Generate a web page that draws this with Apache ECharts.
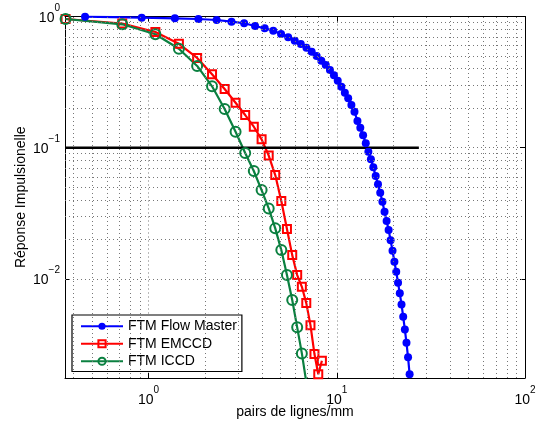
<!DOCTYPE html>
<html><head><meta charset="utf-8">
<script src="https://cdn.jsdelivr.net/npm/echarts@6/dist/echarts.min.js"></script>
<style>html,body{margin:0;padding:0;background:#fff}#c{width:543px;height:421px}</style>
</head><body><div id="c"></div><script>
// ---- data ----
const flowX = [0.46,0.92,1.38,1.84,2.30,2.76,3.22,3.68,4.14,4.60,5.06,5.52,5.98,6.44,6.90,7.36,7.82,8.28,8.74,9.20,9.66,10.12,10.58,11.04,11.50,11.96,12.42,12.88,13.34,13.80,14.26,14.72,15.18,15.64,16.10,16.56,17.02,17.48,17.94,18.40,18.86,19.32,19.78,20.24,20.70,21.16,21.62,22.08,22.54,23.00,23.46,23.92,24.38];
const flowY = [0.997,0.98,0.969,0.957,0.94,0.913,0.888,0.846,0.813,0.779,0.736,0.694,0.654,0.617,0.578,0.539,0.500,0.460,0.427,0.391,0.356,0.324,0.292,0.263,0.238,0.2116,0.188,0.160,0.1418,0.1243,0.108,0.0932,0.0816,0.0709,0.0608,0.0526,0.0454,0.0388,0.0325,0.0276,0.0236,0.0197,0.01638,0.01352,0.01135,0.00935,0.00777,0.0064,0.00515,0.00413,0.00326,0.00253,0.00188];
const emX = [0.3625,0.725,1.0875,1.45,1.8125,2.175,2.5375,2.9,3.2625,3.625,3.9875,4.35,4.7125,5.075,5.4375,5.8,6.1625,6.525,6.8875,7.25,7.6125,7.975,8.3375];
const emY = [0.957,0.884,0.762,0.619,0.483,0.363,0.280,0.2203,0.1775,0.1446,0.1159,0.0872,0.0619,0.0393,0.0240,0.0152,0.01071,0.00872,0.00655,0.00445,0.00268,0.00188,0.00238];
const icX = [0.3625,0.725,1.0875,1.45,1.8125,2.175,2.5375,2.9,3.2625,3.625,3.9875,4.35,4.7125,5.075,5.4375,5.8,6.1625,6.525,6.8875];
const icY = [0.957,0.872,0.732,0.568,0.420,0.2938,0.1972,0.1324,0.0911,0.0665,0.0476,0.0345,0.0243,0.0166,0.01071,0.00691,0.00428,0.00271,0.00164];
const refX = [0.36, 27.3];
const refY = [0.1, 0.1];
const seriesNames = ['FTM Flow Master','FTM EMCCD','FTM ICCD'];
const xRange = [0.36, 100];
const yRange = [0.00176, 1];
const xTickValues = [1, 10, 100];
const xTickExps = ['0', '1', '2'];
const yTickValues = [1, 0.1, 0.01];
const yTickExps = ['0', '\u22121', '\u22122'];
const xMinorGrid = [0.4,0.5,0.6,0.7,0.8,0.9,2,3,4,5,6,7,8,9,20,30,40,50,60,70,80,90];
const yMinorGrid = [0.002,0.003,0.004,0.005,0.006,0.007,0.008,0.009,0.02,0.03,0.04,0.05,0.06,0.07,0.08,0.09,0.2,0.3,0.4,0.5,0.6,0.7,0.8,0.9];

const FONT = 'Liberation Sans, Arial, Helvetica, sans-serif';
const zip = (a, b) => a.map((v, i) => [v, b[i]]);
function powLabel(values, exps) {
  return function (v) {
    const i = values.findIndex(t => Math.abs(Math.log10(v / t)) < 1e-6);
    return i < 0 ? '' : '{b|10}{e|' + exps[i] + '}';
  };
}
const rich = {
  b: { fontSize: 14, lineHeight: 22, fontFamily: FONT, color: '#000', verticalAlign: 'bottom' },
  e: { fontSize: 10, lineHeight: 9, fontFamily: FONT, color: '#000', verticalAlign: 'top' }
};
const gridLine = { color: '#777', width: 1, type: [1, 3] };
const minorMarks = [];
xMinorGrid.forEach(v => minorMarks.push({ xAxis: v }));
yMinorGrid.forEach(v => minorMarks.push({ yAxis: v }));

const GREEN = '#0b8040';
const chart = echarts.init(document.getElementById('c'), null, { renderer: 'canvas' });
chart.setOption({
  animation: false,
  backgroundColor: '#fff',
  grid: { left: 65, right: 18, top: 16.5, bottom: 43, containLabel: false, outerBoundsMode: 'none' },
  xAxis: [{
    type: 'log', min: xRange[0], max: xRange[1], logBase: 10,
    name: 'pairs de lignes/mm', nameLocation: 'middle', nameGap: 27, nameMoveOverlap: false,
    nameTextStyle: { fontSize: 14, fontFamily: FONT, color: '#000' },
    axisLine: { lineStyle: { color: '#000', width: 1 } },
    axisTick: { inside: true, length: 5, lineStyle: { color: '#000' } },
    axisLabel: { formatter: powLabel(xTickValues, xTickExps), rich: rich, margin: 7, showMinLabel: false },
    splitLine: { show: true, lineStyle: gridLine }
  }, {
    type: 'log', min: xRange[0], max: xRange[1], position: 'top',
    axisLine: { show: true, lineStyle: { color: '#000', width: 1 } },
    axisTick: { inside: true, length: 5, lineStyle: { color: '#000' } },
    axisLabel: { show: false }, splitLine: { show: false }
  }],
  yAxis: [{
    type: 'log', min: yRange[0], max: yRange[1], logBase: 10,
    name: 'Réponse Impulsionelle', nameLocation: 'middle', nameGap: 37, nameRotate: 90, nameMoveOverlap: false,
    nameTextStyle: { fontSize: 14, fontFamily: FONT, color: '#000' },
    axisLine: { lineStyle: { color: '#000', width: 1 } },
    axisTick: { inside: true, length: 5, lineStyle: { color: '#000' } },
    axisLabel: { formatter: powLabel(yTickValues, yTickExps), rich: rich, margin: 5, padding: [0, 0, 5, 0], showMinLabel: false },
    splitLine: { show: true, lineStyle: gridLine }
  }, {
    type: 'log', min: yRange[0], max: yRange[1], position: 'right',
    axisLine: { show: true, lineStyle: { color: '#000', width: 1 } },
    axisTick: { inside: true, length: 5, lineStyle: { color: '#000' } },
    axisLabel: { show: false }, splitLine: { show: false }
  }],
  legend: {
    data: seriesNames, orient: 'vertical', left: 72, top: 315,
    itemWidth: 42, itemHeight: 9, itemGap: 3, padding: [4, 5, 3, 8],
    backgroundColor: '#fff', borderColor: '#000', borderWidth: 1.2, borderRadius: 0,
    textStyle: { fontSize: 14, lineHeight: 14.5, fontFamily: FONT, color: '#000' }
  },
  series: [{
    name: 'grid', type: 'line', data: [], silent: true,
    markLine: { silent: true, symbol: 'none', label: { show: false }, animation: false,
      lineStyle: { color: '#777', width: 1, type: [1, 3] }, emphasis: { disabled: true }, data: minorMarks }
  }, {
    name: seriesNames[0], type: 'line', data: zip(flowX, flowY),
    symbol: 'circle', symbolSize: 8, color: '#0000ff',
    lineStyle: { color: '#0000ff', width: 2.2 }, itemStyle: { color: '#0000ff' }
  }, {
    name: seriesNames[1], type: 'line', data: zip(emX, emY),
    symbol: 'rect', symbolSize: 8, color: '#ff0000',
    lineStyle: { color: '#ff0000', width: 2.2 },
    itemStyle: { color: 'rgba(255,255,255,0)', borderColor: '#ff0000', borderWidth: 2 }
  }, {
    name: seriesNames[2], type: 'line', data: zip(icX, icY),
    symbol: 'circle', symbolSize: 10, color: GREEN,
    lineStyle: { color: GREEN, width: 2.2 },
    itemStyle: { color: 'rgba(255,255,255,0)', borderColor: GREEN, borderWidth: 2 }
  }, {
    name: 'ref', type: 'line', data: zip(refX, refY), symbol: 'none',
    lineStyle: { color: '#000', width: 2.5 }, silent: true
  }]
});
</script></body></html>
